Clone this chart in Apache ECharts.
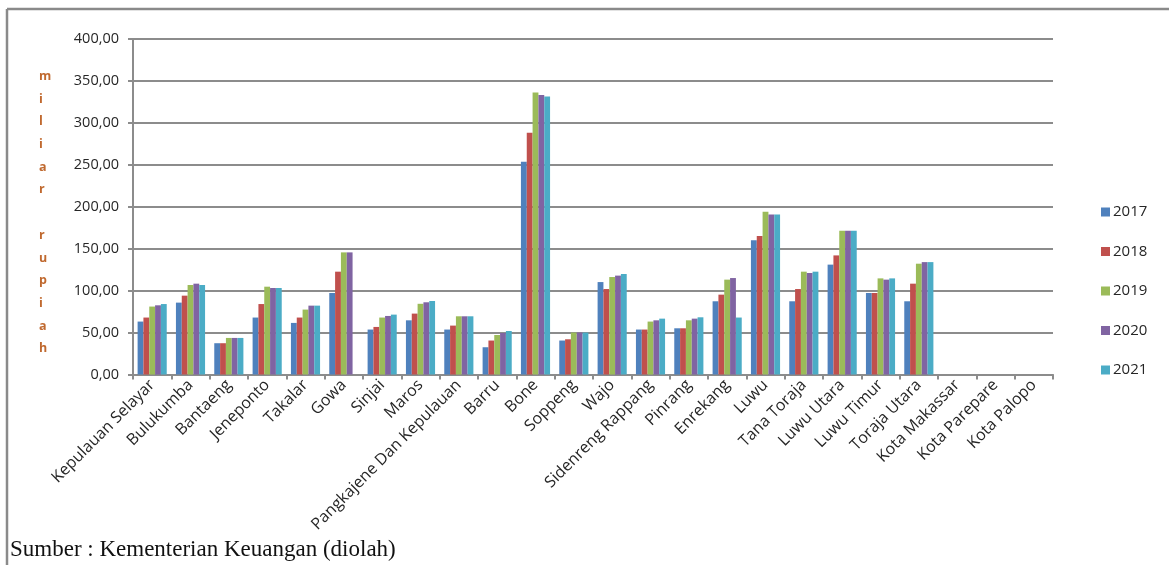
<!DOCTYPE html>
<html>
<head>
<meta charset="utf-8">
<title>Dana per kabupaten/kota 2017–2021</title>
<script src="https://cdn.jsdelivr.net/npm/echarts@6/dist/echarts.min.js"></script>
<style>
  html, body { margin: 0; padding: 0; background: #ffffff; }
  #chart { width: 1169px; height: 565px; }
</style>
</head>
<body>
<div id="chart"></div>
<script>
// Kabupaten / kota in Sulawesi Selatan
const categories = [
  'Kepulauan Selayar', 'Bulukumba', 'Bantaeng', 'Jeneponto', 'Takalar', 'Gowa',
  'Sinjai', 'Maros', 'Pangkajene Dan Kepulauan', 'Barru', 'Bone', 'Soppeng',
  'Wajo', 'Sidenreng Rappang', 'Pinrang', 'Enrekang', 'Luwu', 'Tana Toraja',
  'Luwu Utara', 'Luwu Timur', 'Toraja Utara', 'Kota Makassar', 'Kota Parepare', 'Kota Palopo'
];

// Values in miliar rupiah, one array per year
const years = ['2017', '2018', '2019', '2020', '2021'];
const v2017 = [63.1, 85.7, 37.3, 67.9, 61.5, 97.2, 53.6, 64.6, 53.6, 32.5, 253.6, 40.5, 110.2, 53.6, 55.1, 87.3, 160.2, 87.3, 131.0, 97.2, 87.3, null, null, null];
const v2018 = [67.9, 94.0, 37.3, 84.0, 67.9, 122.6, 56.7, 72.6, 58.3, 40.5, 288.1, 42.0, 101.9, 53.6, 55.1, 95.2, 165.0, 101.9, 142.0, 97.2, 108.3, null, null, null];
const v2019 = [81.0, 106.7, 43.6, 104.7, 77.4, 145.6, 67.9, 84.3, 69.4, 47.1, 336.1, 50.0, 116.2, 63.1, 64.6, 113.1, 194.0, 122.6, 171.4, 114.6, 132.1, null, null, null];
const v2020 = [82.5, 108.3, 43.6, 103.1, 82.1, 145.6, 69.8, 86.1, 69.4, 49.5, 333.3, 50.0, 117.9, 64.6, 66.6, 115.0, 190.8, 121.0, 171.4, 113.1, 134.0, null, null, null];
const v2021 = [84.0, 106.7, 43.6, 103.1, 82.1, null, 71.4, 87.6, 69.4, 51.9, 331.3, 50.0, 119.8, 66.6, 68.2, 67.9, 190.8, 122.6, 171.4, 114.6, 134.0, null, null, null];

// Y axis range
const yMin = 0;
const yMax = 400;
const yStep = 50;

const seriesValues = [v2017, v2018, v2019, v2020, v2021];
const colors = ['#4F81BD', '#C0504D', '#9BBB59', '#8064A2', '#4BACC6'];

const axisGray = '#8c8c8c';
const labelFont = '"Open Sans", "Liberation Sans", sans-serif';

const chart = echarts.init(document.getElementById('chart'), null, { renderer: 'canvas' });

chart.setOption({
  backgroundColor: '#ffffff',
  animation: false,
  color: colors,
  grid: { left: 133, top: 39, width: 920, height: 335.5, containLabel: false },
  legend: {
    orient: 'vertical',
    left: 1096,
    top: 199,
    itemWidth: 9,
    itemHeight: 9,
    itemGap: 23.5,
    icon: 'rect',
    textStyle: { fontFamily: labelFont, fontSize: 15, color: '#262626', lineHeight: 16, padding: [0, 0, 0, -2] },
    data: years
  },
  xAxis: {
    type: 'category',
    data: categories,
    boundaryGap: true,
    axisLine: { show: true, lineStyle: { color: axisGray, width: 2 } },
    axisTick: { show: true, length: 5, lineStyle: { color: axisGray, width: 2 } },
    axisLabel: {
      interval: 0,
      rotate: 45,
      margin: 8,
      fontFamily: labelFont,
      fontSize: 16,
      color: '#262626'
    },
    splitLine: { show: false }
  },
  yAxis: {
    type: 'value',
    min: yMin,
    max: yMax,
    interval: yStep,
    axisLine: { show: true, lineStyle: { color: axisGray, width: 2 } },
    axisTick: { show: true, length: 5, lineStyle: { color: axisGray, width: 2 } },
    axisLabel: {
      margin: 14,
      fontFamily: labelFont,
      fontSize: 14.5,
      color: '#262626',
      formatter: v => v.toFixed(2).replace('.', ',')
    },
    splitLine: { show: true, lineStyle: { color: axisGray, width: 2 } }
  },
  series: years.map((y, i) => ({
    name: y,
    type: 'bar',
    data: seriesValues[i],
    barGap: '0%',
    barCategoryGap: '24%',
    itemStyle: { color: colors[i] }
  })),
  graphic: [
    // frame lines
    { type: 'line', silent: true, shape: { x1: 7, y1: 9, x2: 1169, y2: 9 }, style: { stroke: '#8a8a8a', lineWidth: 2.5 } },
    { type: 'line', silent: true, shape: { x1: 7, y1: 9, x2: 7, y2: 565 }, style: { stroke: '#8a8a8a', lineWidth: 2.5 } },
    // vertical unit caption
    {
      type: 'text',
      left: 39,
      top: 65,
      style: {
        text: 'm\ni\nl\ni\na\nr\n\nr\nu\np\ni\na\nh',
        fontFamily: labelFont,
        fontSize: 12.5,
        fontWeight: 'bold',
        lineHeight: 22.7,
        align: 'center',
        fill: '#C0692F'
      }
    },
    // source note
    {
      type: 'text',
      left: 10,
      top: 538,
      style: {
        text: 'Sumber : Kementerian Keuangan (diolah)',
        fontFamily: '"Liberation Serif", "DejaVu Serif", serif',
        fontSize: 23,
        fill: '#111111'
      }
    }
  ]
});
</script>
</body>
</html>
